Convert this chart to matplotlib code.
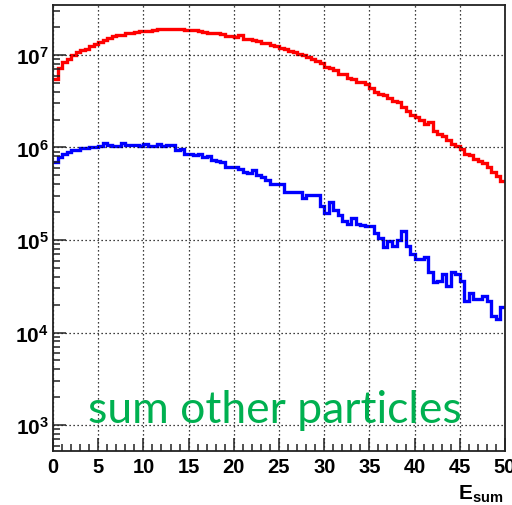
import numpy as np
import matplotlib
matplotlib.use("Agg")
import matplotlib.pyplot as plt
from matplotlib.ticker import FixedLocator, MultipleLocator, LogLocator, NullFormatter, FuncFormatter

# Histogram binning: 100 bins of width 0.5 from 0 to 50
bin_edges = np.linspace(0.0, 50.0, 101)

# Red histogram contents
red_counts = [
    5.5e6, 7.2e6, 8.3e6, 9.1e6, 1.0e7, 1.07e7, 1.13e7, 1.16e7, 1.26e7, 1.33e7,
    1.39e7, 1.45e7, 1.53e7, 1.60e7, 1.65e7, 1.66e7, 1.72e7, 1.74e7, 1.79e7, 1.80e7,
    1.81e7, 1.82e7, 1.87e7, 1.89e7, 1.89e7, 1.89e7, 1.89e7, 1.89e7, 1.89e7, 1.88e7,
    1.84e7, 1.88e7, 1.82e7, 1.79e7, 1.75e7, 1.73e7, 1.72e7, 1.68e7, 1.62e7, 1.60e7,
    1.55e7, 1.63e7, 1.50e7, 1.48e7, 1.44e7, 1.42e7, 1.36e7, 1.34e7, 1.29e7, 1.24e7,
    1.19e7, 1.16e7, 1.11e7, 1.07e7, 1.03e7, 1.00e7, 9.5e6, 9.0e6, 8.7e6, 8.2e6,
    7.4e6, 7.2e6, 6.8e6, 6.3e6, 6.2e6, 5.7e6, 5.5e6, 5.1e6, 5.05e6, 4.8e6,
    4.45e6, 4.0e6, 3.8e6, 3.7e6, 3.4e6, 3.2e6, 3.1e6, 2.75e6, 2.5e6, 2.25e6,
    2.15e6, 2.0e6, 1.8e6, 1.9e6, 1.52e6, 1.40e6, 1.33e6, 1.22e6, 1.10e6, 1.05e6,
    9.6e5, 8.6e5, 8.4e5, 7.6e5, 7.2e5, 6.8e5, 6.2e5, 5.5e5, 4.9e5, 4.3e5,
]

# Blue histogram contents
blue_counts = [
    6.9e5, 7.8e5, 8.5e5, 8.9e5, 9.3e5, 9.4e5, 9.8e5, 9.9e5, 1.0e6, 1.0e6,
    1.03e6, 1.11e6, 1.06e6, 1.03e6, 1.03e6, 1.11e6, 1.06e6, 1.06e6, 1.06e6, 1.03e6,
    1.09e6, 1.05e6, 1.05e6, 1.09e6, 1.03e6, 1.06e6, 1.06e6, 9.3e5, 9.6e5, 8.6e5,
    8.6e5, 8.3e5, 8.6e5, 7.9e5, 8.1e5, 7.3e5, 7.1e5, 6.9e5, 6.1e5, 6.1e5,
    6.2e5, 5.9e5, 5.5e5, 5.3e5, 5.7e5, 5.0e5, 4.8e5, 4.4e5, 4.0e5, 4.0e5,
    4.0e5, 3.3e5, 3.3e5, 3.3e5, 3.3e5, 2.85e5, 3.1e5, 3.1e5, 3.1e5, 2.35e5,
    1.95e5, 2.6e5, 2.1e5, 1.85e5, 1.62e5, 1.48e5, 1.75e5, 1.48e5, 1.47e5, 1.43e5,
    1.4e5, 1.2e5, 1.04e5, 8.5e4, 9.8e4, 8.7e4, 1.0e5, 1.26e5, 8.7e4, 7.1e4,
    6.2e4, 6.2e4, 6.5e4, 4.5e4, 3.55e4, 3.6e4, 4.3e4, 3.2e4, 4.5e4, 4.3e4,
    3.6e4, 2.2e4, 2.7e4, 2.3e4, 2.3e4, 2.5e4, 2.2e4, 1.5e4, 1.4e4, 1.87e4,
]

x_major_ticks = [0, 5, 10, 15, 20, 25, 30, 35, 40, 45, 50]
y_decades = [1e3, 1e4, 1e5, 1e6, 1e7]
annotation = "sum other particles"
x_title = r"$\mathbf{E_{sum}}$"

plt.rcParams["mathtext.fontset"] = "custom"
plt.rcParams["mathtext.rm"] = "Liberation Sans"
plt.rcParams["mathtext.bf"] = "Liberation Sans:bold"
plt.rcParams["font.family"] = "Liberation Sans"

fig = plt.figure(figsize=(5.12, 5.06), dpi=100)
ax = fig.add_axes([53 / 512, 1 - 452 / 506, (505 - 53) / 512, (452 - 6) / 506])

ax.stairs(red_counts, bin_edges, baseline=None, color="#ff0000", lw=2.4)
ax.stairs(blue_counts, bin_edges, baseline=None, color="#0000ff", lw=2.4)

ax.set_yscale("log")
ax.set_xlim(0, 50)
ax.set_ylim(524, 3.47e7)

ax.xaxis.set_major_locator(FixedLocator(x_major_ticks))
ax.xaxis.set_minor_locator(MultipleLocator(1))
ax.yaxis.set_major_locator(FixedLocator(y_decades))
ax.yaxis.set_minor_locator(LogLocator(base=10, subs=np.arange(2, 10)))
ax.yaxis.set_minor_formatter(NullFormatter())
ax.yaxis.set_major_formatter(
    FuncFormatter(lambda v, p: r"$\mathbf{10^{%d}}$" % int(round(np.log10(v))))
)
ax.xaxis.set_major_formatter(FuncFormatter(lambda v, p: "%d" % v))

ax.tick_params(axis="both", which="both", direction="in", top=False, right=False,
               color="#222222", width=1.1)
ax.tick_params(axis="both", which="major", length=9.5)
ax.tick_params(axis="x", which="major", labelsize=14.5, pad=4)
ax.tick_params(axis="y", which="major", labelsize=15, pad=3)
ax.tick_params(axis="both", which="minor", length=4.8)
for lab in ax.get_xticklabels():
    lab.set_fontweight("bold")

ax.grid(True, which="major", color="black", linestyle=(0, (1, 2.2)), linewidth=0.9)
for s in ax.spines.values():
    s.set_color("#222222")
    s.set_linewidth(1.3)

ax.text(3.85, 1.07e3, annotation, color="#00b050", fontsize=32,
        family="Lato", va="baseline", ha="left")

fig.text(503 / 512, 1 - 500 / 506, x_title, fontsize=15, ha="right", va="baseline")

fig.savefig("out.png", dpi=100)
